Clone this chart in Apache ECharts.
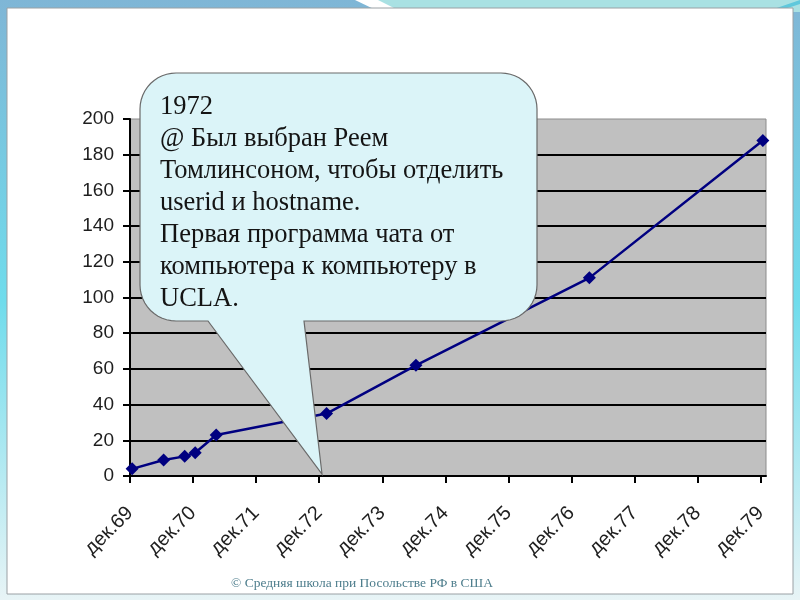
<!DOCTYPE html>
<html>
<head>
<meta charset="utf-8">
<script src="https://cdn.jsdelivr.net/npm/echarts@6/dist/echarts.min.js"></script>
<style>html,body{margin:0;padding:0;background:#fff}#c{width:800px;height:600px}</style>
</head>
<body>
<div id="c"></div>
<script>
// Data
const hostDates = ['1969-12','1970-06','1970-10','1970-12','1971-04','1973-01','1974-06','1977-03','1979-12'];
const hostCounts = [4, 9, 11, 13, 23, 35, 62, 111, 188];
const tickLabels = ['дек.69','дек.70','дек.71','дек.72','дек.73','дек.74','дек.75','дек.76','дек.77','дек.78','дек.79'];
const yTicks = [0,20,40,60,80,100,120,140,160,180,200];
const calloutLines = ['1972','@ Был выбран Реем','Томлинсоном, чтобы отделить','userid и hostname.','Первая программа чата от','компьютера к компьютеру в','UCLA.'];
const footerText = '© Средняя школа при Посольстве РФ в США';

function monthIndex(s){
  const [y,m] = s.split('-').map(Number);
  return (y-1969)*12 + (m-12) + 0.4;
}
const tickValues = tickLabels.map((_, i) => i*12);
const seriesData = hostDates.map((d,i) => [monthIndex(d), hostCounts[i]]);

// callout outline (rounded box with a pointer)
function arcPts(cx, cy, r, a0, a1){
  const pts = [];
  for (let k = 0; k <= 12; k++){
    const a = a0 + (a1 - a0) * k / 12;
    pts.push([cx + r*Math.cos(a), cy + r*Math.sin(a)]);
  }
  return pts;
}
function calloutPoints(x0, y0, x1, y1, r, tailR, tailL, tip){
  const P = Math.PI;
  let pts = [];
  pts = pts.concat(arcPts(x0 + r, y0 + r, r, P, 1.5*P));
  pts = pts.concat(arcPts(x1 - r, y0 + r, r, 1.5*P, 2*P));
  pts = pts.concat(arcPts(x1 - r, y1 - r, r, 0, 0.5*P));
  pts.push([tailR, y1], tip, [tailL, y1]);
  pts = pts.concat(arcPts(x0 + r, y1 - r, r, 0.5*P, P));
  return pts;
}

const chart = echarts.init(document.getElementById('c'), null, {renderer:'canvas'});
chart.setOption({
  animation:false,
  backgroundColor:'#ffffff',
  title:{
    text: footerText, left: 226, top: 571,
    textStyle:{fontFamily:'"Liberation Serif", serif', fontSize:13.5, fontWeight:'normal', color:'#4d7d8c'}
  },
  grid:{left:130, top:119, right:34, bottom:124, show:true, backgroundColor:'#c0c0c0', borderColor:'#8c8c8c', borderWidth:1},
  xAxis:{
    type:'value', min:0, max:121,
    axisLine:{show:true, onZero:false, lineStyle:{color:'#000', width:2}},
    axisTick:{show:true, length:7, lineStyle:{color:'#000', width:2}, customValues: tickValues},
    axisLabel:{
      customValues: tickValues, rotate:45, margin:34,
      fontFamily:'"Liberation Sans", Arial, sans-serif', fontSize:20, color:'#1e1e1e',
      formatter: v => tickLabels[Math.round(v/12)] || ''
    },
    splitLine:{show:false}
  },
  yAxis:{
    type:'value', min:0, max:200, interval:20,
    axisLine:{show:true, lineStyle:{color:'#000', width:2}},
    axisTick:{show:true, length:7, lineStyle:{color:'#000', width:2}},
    axisLabel:{margin:16, fontFamily:'"Liberation Sans", Arial, sans-serif', fontSize:19, color:'#1e1e1e',
      formatter: v => yTicks.includes(v) ? String(v) : ''},
    splitLine:{show:true, showMaxLine:false, showMinLine:false, lineStyle:{color:'#000', width:2}}
  },
  series:[{
    type:'line', data: seriesData, symbol:'diamond', symbolSize:13,
    lineStyle:{color:'#000080', width:2.5}, itemStyle:{color:'#000080'}, z:3
  }],
  graphic:[
    {type:'rect', z:-10, silent:true, shape:{x:0,y:0,width:800,height:600},
      style:{fill:new echarts.graphic.LinearGradient(0,0,0,1,[{offset:0,color:'#7fb6d6'},{offset:0.5,color:'#6fdcec'},{offset:1,color:'#e8f4f6'}])}},
    {type:'polygon', z:-9, silent:true, shape:{points:[[360,0],[800,0],[800,12],[400,12]]}, style:{fill:'#a9e1e3'}},
    {type:'polygon', z:-9, silent:true, shape:{points:[[355,0],[378,0],[402,12],[380,12]]}, style:{fill:'#ffffff'}},
    {type:'polygon', z:-9, silent:true, shape:{points:[[765,12],[800,0],[800,4],[775,12]]}, style:{fill:'#5fc8dc'}},
    {type:'rect', z:-8, silent:true, shape:{x:7,y:8,width:786,height:586},
      style:{fill:'#ffffff', stroke:'#9aa0a4', lineWidth:1}},
    {type:'polygon', z:100, silent:true,
      shape:{points: calloutPoints(140, 73, 537, 321, 36, 304, 208, [322, 474])},
      style:{fill:'#dbf4f8', stroke:'#6a6a6a', lineWidth:1.2}},
    {type:'text', z:101, silent:true, left:160, top:91,
      style:{text: calloutLines.join('\n'), font:'26.5px "Liberation Serif", "Times New Roman", serif', lineHeight:32, fill:'#141414'}}
  ]
});
</script>
</body>
</html>
